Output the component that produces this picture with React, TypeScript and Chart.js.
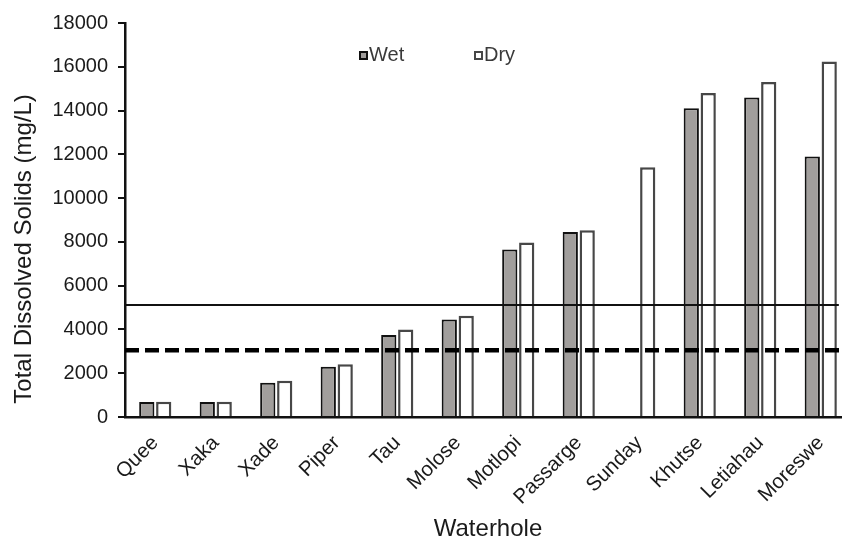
import React, { useEffect, useRef } from 'react';
import { Chart, registerables } from 'chart.js';

Chart.register(...registerables);

const categories = ['Quee', 'Xaka', 'Xade', 'Piper', 'Tau', 'Molose', 'Motlopi', 'Passarge', 'Sunday', 'Khutse', 'Letiahau', 'Moreswe'];
const wetValues = [680, 680, 1570, 2300, 3750, 4460, 7650, 8450, null, 14100, 14600, 11900];
const dryValues = [700, 700, 1660, 2410, 4000, 4620, 7970, 8530, 11410, 14800, 15300, 16240];
const yTickValues = [0, 2000, 4000, 6000, 8000, 10000, 12000, 14000, 16000, 18000];
const seriesLabels = ['Wet', 'Dry'];
const solidLimit = 5100;
const dashedLimit = 3050;

const FONT = "'Liberation Sans', Arial, sans-serif";

const refLinesPlugin = {
  id: 'refLines',
  afterDatasetsDraw(chart: any) {
    const { ctx, chartArea, scales } = chart;
    const y = scales.y;
    const meta = chart.getDatasetMeta(1);
    const last = meta.data[meta.data.length - 1];
    const solidEnd = last ? last.x + last.width / 2 + 2 : chartArea.right;
    ctx.save();
    ctx.beginPath();
    ctx.strokeStyle = '#111';
    ctx.lineWidth = 2;
    const ys = Math.round(y.getPixelForValue(solidLimit));
    ctx.moveTo(chartArea.left, ys);
    ctx.lineTo(solidEnd, ys);
    ctx.stroke();
    ctx.beginPath();
    ctx.strokeStyle = '#000';
    ctx.lineWidth = 4.5;
    ctx.setLineDash([14, 6]);
    const yd = y.getPixelForValue(dashedLimit);
    ctx.moveTo(chartArea.left, yd);
    ctx.lineTo(chartArea.right, yd);
    ctx.stroke();
    ctx.restore();
  },
};

const legendPlugin = {
  id: 'customLegend',
  afterDraw(chart: any) {
    const { ctx, chartArea } = chart;
    const items = [
      { x: chartArea.left + 234, ds: chart.data.datasets[0] },
      { x: chartArea.left + 349, ds: chart.data.datasets[1] },
    ];
    const yTop = chartArea.top + 28;
    ctx.save();
    items.forEach(({ x, ds }) => {
      ctx.fillStyle = ds.backgroundColor;
      ctx.fillRect(x, yTop, 8, 8);
      ctx.strokeStyle = ds.borderColor;
      ctx.lineWidth = 2;
      ctx.strokeRect(x + 1, yTop + 1, 7, 7);
      ctx.fillStyle = '#3a3a3a';
      ctx.font = `20px ${FONT}`;
      ctx.textBaseline = 'middle';
      ctx.textAlign = 'left';
      ctx.fillText(ds.label, x + 10, yTop + 4.5);
    });
    ctx.restore();
  },
};

function BarChart() {
  const canvasRef = useRef<HTMLCanvasElement | null>(null);

  useEffect(() => {
    if (!canvasRef.current) return;
    const chart = new Chart(canvasRef.current, {
      type: 'bar',
      data: {
        labels: categories,
        datasets: [
          {
            label: seriesLabels[0],
            data: wetValues,
            backgroundColor: '#a19e9c',
            borderColor: '#111111',
            borderWidth: 2,
            categoryPercentage: 0.56,
            barPercentage: 0.9,
          },
          {
            label: seriesLabels[1],
            data: dryValues,
            backgroundColor: '#ffffff',
            borderColor: '#474747',
            borderWidth: 2.5,
            categoryPercentage: 0.56,
            barPercentage: 0.9,
          },
        ],
      },
      options: {
        responsive: false,
        animation: false,
        events: [],
        layout: { padding: { top: 23, right: 9, bottom: 0, left: 0 } },
        plugins: {
          legend: { display: false },
          tooltip: { enabled: false },
          title: { display: false },
        },
        scales: {
          x: {
            grid: { display: false, drawTicks: false },
            border: { display: true, color: '#111', width: 2.5 },
            ticks: {
              color: '#1a1a1a',
              font: { family: FONT, size: 20.5 },
              minRotation: 45,
              maxRotation: 45,
              padding: 14,
              autoSkip: false,
            },
            title: {
              display: true,
              text: 'Waterhole',
              color: '#1a1a1a',
              font: { family: FONT, size: 24 },
              padding: { top: 4, bottom: 0 },
            },
            afterFit: (scale: any) => {
              scale.height = 127;
            },
          },
          y: {
            min: 0,
            max: 18000,
            grid: { drawOnChartArea: false, drawTicks: true, tickLength: 7, color: '#111', lineWidth: 2 },
            border: { display: true, color: '#111', width: 2.5 },
            afterBuildTicks: (scale: any) => {
              scale.ticks = yTickValues.map((v) => ({ value: v }));
            },
            ticks: {
              color: '#1a1a1a',
              font: { family: FONT, size: 20 },
              padding: 10,
              callback: (v: any) => String(v),
            },
            title: {
              display: true,
              align: 'start',
              text: '  Total Dissolved Solids (mg/L)',
              color: '#1a1a1a',
              font: { family: FONT, size: 24 },
              padding: { top: 10, bottom: 4 },
            },
            afterFit: (scale: any) => {
              scale.width = 125;
            },
          },
        },
      },
      plugins: [refLinesPlugin, legendPlugin],
    });
    return () => chart.destroy();
  }, []);

  return <canvas ref={canvasRef} width={860} height={544} style={{ display: 'block' }} />;
}

export default function App() {
  return (
    <div
      style={{
        position: 'fixed',
        left: 0,
        top: 0,
        width: 842,
        height: 540,
        overflow: 'hidden',
        background: '#ffffff',
      }}
    >
      <BarChart />
    </div>
  );
}
